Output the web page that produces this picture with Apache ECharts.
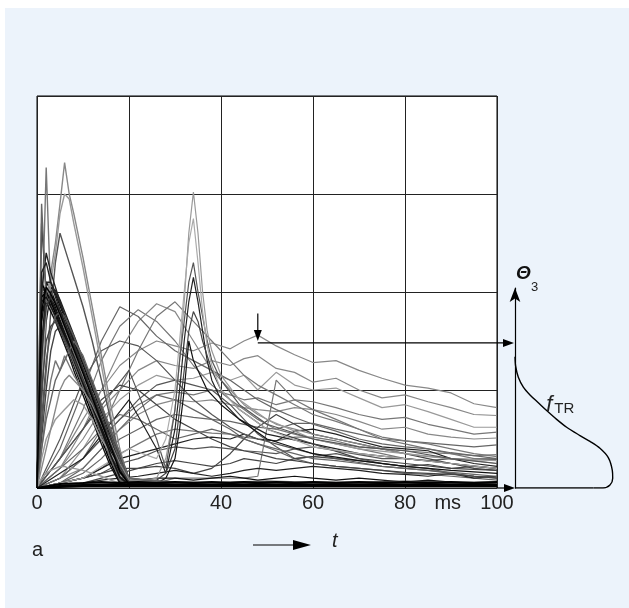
<!DOCTYPE html>
<html>
<head>
<meta charset="utf-8">
<script src="https://cdn.jsdelivr.net/npm/echarts@6/dist/echarts.min.js"></script>
<style>
  html, body { margin: 0; padding: 0; background: #fff; }
  #panel { position: absolute; left: 5px; top: 8px; width: 624px; height: 600px; background: #ecf3fb; }
  #chart { position: absolute; left: 0; top: 0; width: 629px; height: 608px; }
</style>
</head>
<body>
<div id="panel"></div>
<div id="chart"></div>
<script>
// x axis ticks (ms)
const xTicks = [0, 20, 40, 60, 80, 100]
const unitLabel = 'ms'
const unitPos = 89.3

// early traces: fast rise, linear decay to ~18 ms
const tEarly = [0, 1, 2, 3, 4, 5, 6, 7, 8, 10, 12, 14, 16, 18, 20, 30, 40, 50, 60, 70, 80, 90, 100]
const earlyRuns = [
  [0, 2.0, 2.05, 1.95, 1.85, 1.72, 1.6, 1.48, 1.35, 1.1, 0.85, 0.6, 0.35, 0.12, 0.04, 0.03, 0.02, 0.02, 0.03, 0.02, 0.02, 0.03, 0.02],
  [0, 1.85, 2.1, 2.02, 1.9, 1.78, 1.66, 1.54, 1.42, 1.18, 0.93, 0.68, 0.43, 0.2, 0.05, 0.03, 0.03, 0.02, 0.02, 0.02, 0.03, 0.02, 0.02],
  [0, 1.5, 1.95, 2.05, 1.98, 1.86, 1.74, 1.62, 1.5, 1.26, 1.02, 0.78, 0.53, 0.28, 0.06, 0.04, 0.03, 0.02, 0.02, 0.03, 0.02, 0.02, 0.03],
  [0, 1.6, 3.27, 1.95, 1.88, 1.75, 1.62, 1.5, 1.38, 1.13, 0.88, 0.63, 0.38, 0.15, 0.04, 0.03, 0.02, 0.03, 0.02, 0.02, 0.02, 0.03, 0.02],
  [0, 2.1, 1.98, 1.86, 1.74, 1.62, 1.5, 1.38, 1.25, 1.0, 0.75, 0.5, 0.26, 0.06, 0.03, 0.02, 0.02, 0.02, 0.02, 0.02, 0.02, 0.02, 0.02],
  [0, 0.9, 1.7, 2.0, 2.02, 1.92, 1.8, 1.68, 1.56, 1.32, 1.08, 0.84, 0.6, 0.36, 0.1, 0.04, 0.03, 0.03, 0.02, 0.02, 0.02, 0.02, 0.02],
  [0, 1.2, 1.9, 2.2, 2.5, 2.9, 3.32, 3.0, 2.8, 2.35, 1.85, 1.35, 0.85, 0.4, 0.06, 0.03, 0.02, 0.02, 0.02, 0.02, 0.02, 0.02, 0.02],
  [0, 1.0, 1.8, 2.1, 2.4, 2.8, 3.0, 2.95, 2.7, 2.25, 1.75, 1.25, 0.75, 0.3, 0.05, 0.03, 0.02, 0.02, 0.03, 0.02, 0.02, 0.02, 0.02],
  [0, 2.7, 2.0, 1.9, 1.8, 1.68, 1.56, 1.44, 1.32, 1.08, 0.83, 0.58, 0.33, 0.1, 0.03, 0.02, 0.02, 0.02, 0.02, 0.02, 0.02, 0.02, 0.02],
  [0, 0.6, 1.2, 1.8, 2.3, 2.6, 2.45, 2.3, 2.15, 1.85, 1.5, 1.1, 0.7, 0.3, 0.05, 0.03, 0.02, 0.02, 0.02, 0.02, 0.02, 0.02, 0.02],
  [0, 0.5, 1.0, 1.4, 1.6, 1.65, 1.55, 1.45, 1.35, 1.1, 0.85, 0.6, 0.35, 0.12, 0.03, 0.02, 0.02, 0.02, 0.02, 0.02, 0.02, 0.02, 0.02],
  [0, 1.8, 1.9, 1.8, 1.7, 1.58, 1.46, 1.34, 1.2, 0.95, 0.7, 0.45, 0.22, 0.05, 0.03, 0.02, 0.02, 0.02, 0.02, 0.02, 0.02, 0.02, 0.02],
  [0, 0.1, 0.15, 0.18, 0.2, 0.22, 0.22, 0.2, 0.2, 0.18, 0.15, 0.12, 0.08, 0.05, 0.03, 0.02, 0.02, 0.02, 0.02, 0.02, 0.02, 0.02, 0.02],
  [0, 0.4, 0.8, 1.1, 1.3, 1.2, 1.35, 1.25, 1.15, 1.0, 0.9, 0.7, 0.5, 0.3, 0.1, 0.04, 0.03, 0.03, 0.03, 0.03, 0.03, 0.03, 0.03],
  [0, 2.0, 2.4, 2.2, 2.05, 1.9, 1.76, 1.62, 1.48, 1.22, 0.96, 0.7, 0.45, 0.2, 0.05, 0.03, 0.02, 0.02, 0.02, 0.02, 0.02, 0.02, 0.02],
  [0, 1.95, 2.0, 1.9, 1.78, 1.66, 1.54, 1.42, 1.3, 1.05, 0.8, 0.55, 0.3, 0.08, 0.03, 0.03, 0.02, 0.02, 0.02, 0.02, 0.02, 0.02, 0.02],
  [0, 1.7, 2.0, 1.92, 1.82, 1.7, 1.58, 1.46, 1.34, 1.1, 0.86, 0.62, 0.38, 0.16, 0.05, 0.05, 0.04, 0.04, 0.05, 0.05, 0.04, 0.05, 0.05],
  [0, 1.3, 2.1, 2.1, 2.0, 1.88, 1.76, 1.64, 1.52, 1.28, 1.04, 0.8, 0.56, 0.32, 0.08, 0.06, 0.05, 0.05, 0.06, 0.05, 0.06, 0.05, 0.06],
  [0, 2.9, 1.9, 1.85, 1.75, 1.63, 1.51, 1.39, 1.27, 1.03, 0.79, 0.55, 0.3, 0.08, 0.03, 0.03, 0.03, 0.03, 0.03, 0.03, 0.03, 0.03, 0.03],
  [0, 0.3, 0.5, 0.6, 0.7, 0.75, 0.8, 0.85, 0.9, 0.85, 0.7, 0.5, 0.35, 0.2, 0.08, 0.03, 0.02, 0.02, 0.02, 0.02, 0.02, 0.02, 0.02],
  [0, 1.9, 1.95, 1.85, 1.76, 1.65, 1.54, 1.43, 1.31, 1.07, 0.83, 0.59, 0.34, 0.11, 0.04, 0.04, 0.03, 0.04, 0.03, 0.04, 0.03, 0.04, 0.04],
  [0, 1.4, 1.85, 1.95, 1.9, 1.8, 1.69, 1.58, 1.46, 1.22, 0.98, 0.74, 0.5, 0.25, 0.06, 0.05, 0.04, 0.05, 0.04, 0.05, 0.04, 0.05, 0.04],
  [0, 0.7, 1.3, 1.6, 1.75, 1.8, 1.75, 1.65, 1.55, 1.3, 1.05, 0.8, 0.55, 0.3, 0.07, 0.05, 0.05, 0.04, 0.05, 0.04, 0.05, 0.04, 0.05],
  [0, 0.4, 0.7, 0.9, 1.1, 1.2, 1.3, 1.4, 1.5, 1.35, 1.1, 0.85, 0.6, 0.35, 0.1, 0.06, 0.05, 0.05, 0.05, 0.06, 0.05, 0.05, 0.05],
  [0, 0.2, 0.4, 0.6, 0.8, 1.0, 1.1, 1.15, 1.1, 1.0, 0.85, 0.65, 0.45, 0.25, 0.08, 0.05, 0.04, 0.04, 0.04, 0.04, 0.04, 0.04, 0.04],
  [0, 1.0, 1.5, 1.65, 1.7, 1.62, 1.52, 1.42, 1.32, 1.1, 0.88, 0.66, 0.44, 0.22, 0.06, 0.06, 0.06, 0.07, 0.06, 0.06, 0.07, 0.06, 0.06],
  [0, 2.2, 2.3, 2.1, 1.95, 1.82, 1.7, 1.57, 1.44, 1.19, 0.94, 0.69, 0.44, 0.19, 0.04, 0.02, 0.02, 0.02, 0.02, 0.02, 0.02, 0.02, 0.02],
  [0, 1.8, 2.05, 1.98, 1.88, 1.77, 1.65, 1.53, 1.41, 1.17, 0.92, 0.67, 0.42, 0.17, 0.04, 0.04, 0.04, 0.04, 0.04, 0.04, 0.04, 0.04, 0.04]
]
const earlyColors = ['#000', '#111', '#000', '#777', '#000', '#222', '#888', '#999', '#333', '#555', '#444', '#111', '#999', '#777', '#222', '#000', '#111', '#222', '#666', '#999', '#111', '#333', '#555', '#666', '#888', '#444', '#222', '#000']

// traces with the spike near 34 ms
const tSpike = [0, 10, 20, 26, 28, 30, 31, 32, 33, 34, 35, 36, 37, 38, 40, 44, 50, 60, 70, 80, 90, 100]
const spikeRuns = [
  [0, 0.05, 0.05, 0.1, 0.3, 0.8, 1.3, 1.9, 2.6, 3.02, 2.6, 2.0, 1.6, 1.4, 1.15, 0.9, 0.7, 0.5, 0.4, 0.35, 0.3, 0.28],
  [0, 0.6, 1.2, 0.5, 0.2, 0.8, 1.3, 1.7, 2.1, 2.3, 2.0, 1.75, 1.5, 1.3, 1.1, 0.85, 0.65, 0.5, 0.42, 0.38, 0.3, 0.25],
  [0, 0.3, 0.9, 0.4, 0.15, 0.6, 1.0, 1.5, 1.9, 2.15, 1.9, 1.6, 1.3, 1.1, 0.9, 0.7, 0.55, 0.45, 0.35, 0.3, 0.25, 0.2],
  [0, 0.05, 0.05, 0.08, 0.15, 0.4, 0.8, 1.2, 1.6, 1.8, 1.7, 1.5, 1.35, 1.2, 1.0, 0.8, 0.6, 0.45, 0.3, 0.25, 0.2, 0.18],
  [0, 0.03, 0.03, 0.05, 0.1, 0.3, 0.6, 1.0, 1.5, 1.3, 1.2, 1.1, 1.0, 0.95, 0.85, 0.7, 0.5, 0.35, 0.28, 0.22, 0.18, 0.15],
  [0, 0.1, 0.4, 0.3, 0.5, 1.0, 1.5, 2.0, 2.5, 2.75, 2.3, 1.8, 1.45, 1.25, 1.0, 0.8, 0.6, 0.42, 0.35, 0.3, 0.25, 0.2]
]
const spikeColors = ['#999', '#555', '#222', '#444', '#111', '#aaa']

// slower traces: humps 15-30 ms and long tails
const tMid = [0, 5, 10, 14, 18, 22, 26, 30, 34, 38, 42, 45, 48, 52, 56, 60, 65, 70, 75, 80, 85, 90, 95, 100]
const midRuns = [
  [0, 0.3, 0.8, 1.3, 1.65, 1.82, 1.7, 1.5, 1.25, 1.05, 0.9, 0.8, 0.7, 0.6, 0.55, 0.5, 0.45, 0.4, 0.35, 0.3, 0.28, 0.25, 0.22, 0.2],
  [0, 0.2, 0.6, 1.0, 1.4, 1.7, 1.88, 1.8, 1.5, 1.2, 1.0, 0.85, 0.75, 0.65, 0.6, 0.55, 0.5, 0.45, 0.4, 0.35, 0.32, 0.3, 0.28, 0.25],
  [0, 0.4, 1.0, 1.5, 1.85, 1.75, 1.55, 1.4, 1.3, 1.2, 1.1, 1.0, 0.9, 0.8, 0.72, 0.65, 0.58, 0.5, 0.45, 0.42, 0.4, 0.36, 0.33, 0.3],
  [0, 0.1, 0.3, 0.6, 1.0, 1.4, 1.75, 1.9, 1.7, 1.5, 1.3, 1.15, 1.05, 0.95, 0.85, 0.75, 0.68, 0.6, 0.52, 0.48, 0.45, 0.4, 0.35, 0.32],
  [0, 0.5, 1.1, 1.4, 1.5, 1.45, 1.3, 1.1, 0.9, 0.75, 0.62, 0.55, 0.5, 0.45, 0.4, 0.35, 0.3, 0.26, 0.22, 0.2, 0.18, 0.15, 0.12, 0.1],
  [0, 0.3, 0.6, 0.9, 1.05, 1.0, 0.85, 0.7, 0.6, 0.5, 0.42, 0.38, 0.35, 0.3, 0.28, 0.25, 0.22, 0.2, 0.18, 0.16, 0.15, 0.14, 0.12, 0.1],
  [0, 0.2, 0.4, 0.6, 0.75, 0.7, 0.6, 0.5, 0.55, 0.6, 0.55, 0.5, 0.45, 0.4, 0.35, 0.3, 0.28, 0.25, 0.22, 0.2, 0.18, 0.16, 0.14, 0.12]
]
const midColors = ['#777', '#888', '#666', '#777', '#555', '#444', '#666']

const tailRuns = [
  [0, 0.3, 0.7, 1.0, 1.25, 1.4, 1.5, 1.45, 1.4, 1.48, 1.42, 1.5, 1.56, 1.45, 1.36, 1.28, 1.3, 1.2, 1.12, 1.05, 1.02, 0.97, 0.86, 0.82],
  [0, 0.2, 0.5, 0.8, 1.0, 1.2, 1.3, 1.25, 1.22, 1.3, 1.25, 1.32, 1.35, 1.22, 1.18, 1.08, 1.12, 1.0, 0.92, 0.95, 0.88, 0.82, 0.75, 0.74],
  [0, 0.1, 0.4, 0.7, 0.9, 1.05, 1.15, 1.1, 1.12, 1.18, 1.1, 1.15, 1.0, 1.18, 1.05, 1.0, 1.02, 0.92, 0.82, 0.85, 0.78, 0.7, 0.62, 0.62],
  [0, 0.1, 0.3, 0.5, 0.7, 0.85, 0.95, 0.98, 0.95, 1.0, 0.95, 0.9, 0.92, 0.85, 0.9, 0.88, 0.82, 0.75, 0.7, 0.72, 0.65, 0.6, 0.55, 0.57],
  [0, 0.1, 0.2, 0.4, 0.6, 0.75, 0.85, 0.9, 0.88, 0.9, 0.85, 0.82, 0.8, 0.78, 0.82, 0.8, 0.75, 0.68, 0.6, 0.62, 0.55, 0.52, 0.5, 0.51],
  [0, 0.05, 0.15, 0.3, 0.5, 0.6, 0.7, 0.75, 0.72, 0.7, 0.68, 0.65, 0.62, 0.6, 0.66, 0.66, 0.6, 0.55, 0.5, 0.48, 0.46, 0.44, 0.42, 0.44],
  [0, 0.05, 0.1, 0.2, 0.35, 0.45, 0.55, 0.6, 0.58, 0.56, 0.55, 0.52, 0.5, 0.48, 0.52, 0.52, 0.48, 0.42, 0.4, 0.38, 0.36, 0.35, 0.33, 0.34],
  [0, 0.05, 0.1, 0.15, 0.25, 0.3, 0.38, 0.42, 0.4, 0.42, 0.4, 0.38, 0.37, 0.35, 0.4, 0.42, 0.38, 0.34, 0.3, 0.3, 0.28, 0.3, 0.29, 0.29],
  [0, 0.05, 0.1, 0.15, 0.2, 0.2, 0.22, 0.2, 0.15, 0.2, 0.35, 0.5, 0.62, 0.75, 0.65, 0.55, 0.5, 0.45, 0.4, 0.35, 0.3, 0.25, 0.2, 0.18],
  [0, 0.1, 0.3, 0.5, 0.7, 0.9, 1.05, 1.1, 1.05, 1.0, 0.85, 0.7, 0.55, 0.42, 0.3, 0.32, 0.35, 0.3, 0.25, 0.22, 0.2, 0.15, 0.12, 0.11],
  [0, 0.05, 0.2, 0.4, 0.6, 0.8, 0.95, 0.9, 0.8, 0.7, 0.6, 0.5, 0.45, 0.38, 0.3, 0.25, 0.22, 0.2, 0.18, 0.15, 0.14, 0.12, 0.1, 0.08],
  [0, 0.05, 0.1, 0.2, 0.3, 0.35, 0.4, 0.45, 0.5, 0.52, 0.5, 0.55, 0.5, 0.48, 0.58, 0.6, 0.55, 0.48, 0.42, 0.4, 0.38, 0.3, 0.25, 0.22],
  [0, 0.02, 0.05, 0.1, 0.15, 0.2, 0.25, 0.28, 0.25, 0.22, 0.25, 0.3, 0.28, 0.25, 0.3, 0.32, 0.3, 0.28, 0.25, 0.22, 0.24, 0.2, 0.22, 0.2],
  [0, 0.02, 0.03, 0.05, 0.05, 0.05, 0.05, 0.1, 0.1, 0.1, 0.1, 0.1, 0.12, 1.1, 0.9, 0.8, 0.7, 0.6, 0.5, 0.45, 0.4, 0.35, 0.3, 0.3],
  [0, 0.02, 0.05, 0.08, 0.1, 0.12, 0.15, 0.18, 0.15, 0.12, 0.15, 0.18, 0.2, 0.18, 0.2, 0.22, 0.2, 0.18, 0.15, 0.14, 0.12, 0.15, 0.1, 0.12],
  [0, 0.02, 0.03, 0.05, 0.06, 0.08, 0.1, 0.1, 0.08, 0.1, 0.12, 0.1, 0.08, 0.1, 0.12, 0.1, 0.08, 0.1, 0.08, 0.06, 0.08, 0.06, 0.05, 0.06]
]
const tailColors = ['#888', '#888', '#999', '#777', '#888', '#666', '#777', '#555', '#444', '#555', '#666', '#222', '#444', '#777', '#222', '#111']

// traces that stay at the floor after the first pulse
const floorRuns = [
  [0, 0.02, 0.03, 0.03, 0.04, 0.03, 0.04, 0.03, 0.04, 0.03, 0.04, 0.03, 0.04, 0.03, 0.04, 0.03, 0.04, 0.03, 0.04, 0.03, 0.04, 0.03, 0.04, 0.03],
  [0, 0.04, 0.05, 0.06, 0.05, 0.06, 0.05, 0.06, 0.05, 0.06, 0.05, 0.06, 0.05, 0.06, 0.05, 0.06, 0.05, 0.06, 0.05, 0.06, 0.05, 0.06, 0.05, 0.06],
  [0, 0.01, 0.02, 0.02, 0.02, 0.02, 0.02, 0.02, 0.02, 0.02, 0.02, 0.02, 0.02, 0.02, 0.02, 0.02, 0.02, 0.02, 0.02, 0.02, 0.02, 0.02, 0.02, 0.02]
]

// marked trace point and level
const markT = 48
const markPeak = 1.56
const markLevel = 1.48

// density f_TR over Theta_3 (density normalised to its maximum)
const fDensity = [0, 0.007, 0.034, 0.085, 0.153, 0.238, 0.323, 0.425, 0.527, 0.663, 0.765, 0.867, 0.952, 0.993, 0.997, 0.969, 0.898, 0.8]
const fTheta = [1.34, 1.24, 1.13, 1.03, 0.95, 0.87, 0.79, 0.7, 0.62, 0.535, 0.475, 0.405, 0.31, 0.18, 0.1, 0.03, 0.0, 0.0]

const FONT = "'Liberation Sans', Arial, sans-serif"

const chart = echarts.init(document.getElementById('chart'), null, { renderer: 'canvas' })

// 生成曲线系列
const traceSeries = (t, runs, colors, width) => runs.map((v, i) => ({
  type: 'line',
  xAxisIndex: 0,
  yAxisIndex: 0,
  data: t.map((x, k) => [x, v[k]]),
  showSymbol: false,
  silent: true,
  lineStyle: { color: colors[i % colors.length], width }
}))

const series = [
  ...traceSeries(tMid, tailRuns, tailColors, 1.2),
  ...traceSeries(tMid, midRuns, midColors, 1.2),
  ...traceSeries(tSpike, spikeRuns, spikeColors, 1.2),
  ...traceSeries(tEarly, earlyRuns, earlyColors, 1.4),
  ...traceSeries(tMid, floorRuns, ['#000'], 2),
  {
    type: 'line',
    xAxisIndex: 1,
    yAxisIndex: 1,
    data: fDensity.map((d, i) => [d, fTheta[i]]),
    smooth: 0.3,
    showSymbol: false,
    silent: true,
    lineStyle: { color: '#000', width: 1.4 }
  },
  {
    type: 'line',
    xAxisIndex: 1,
    yAxisIndex: 1,
    data: [[fDensity[fDensity.length - 1], 0], [0, 0]],
    showSymbol: false,
    silent: true,
    lineStyle: { color: '#000', width: 1.4 }
  }
]

const option = {
  animation: false,
  backgroundColor: 'transparent',
  grid: [
    { left: 37, top: 96, width: 460, height: 392, show: true, backgroundColor: '#fff', borderColor: '#000', borderWidth: 1 },
    { left: 515, top: 288, width: 98, height: 200, show: false }
  ],
  xAxis: [
    {
      type: 'value', gridIndex: 0, min: 0, max: 100, interval: 20,
      axisLine: { show: false },
      axisTick: { show: false },
      splitLine: { show: true, lineStyle: { color: '#222', width: 1 } },
      axisLabel: {
        color: '#222', fontSize: 20, fontFamily: FONT, margin: 5,
        formatter: (v) => xTicks.includes(v) ? String(v) : ''
      }
    },
    {
      type: 'value', gridIndex: 1, min: 0, max: 1,
      axisLine: { show: false }, axisTick: { show: false },
      splitLine: { show: false }, axisLabel: { show: false }
    }
  ],
  yAxis: [
    {
      type: 'value', gridIndex: 0, min: 0, max: 4, interval: 1,
      axisLine: { show: false }, axisTick: { show: false },
      axisLabel: { show: false },
      splitLine: { show: true, lineStyle: { color: '#222', width: 1 } }
    },
    {
      type: 'value', gridIndex: 1, min: 0, max: 200 / 98,
      axisLine: {
        show: true, onZero: false,
        symbol: ['none', 'arrow'], symbolSize: [8, 14],
        lineStyle: { color: '#000', width: 1.2 }
      },
      axisTick: { show: false }, axisLabel: { show: false },
      splitLine: { show: false }
    }
  ],
  series
}
chart.setOption(option)

// 箭头
const arrow = (x1, y1, x2, y2, len, half) => {
  const dx = x2 - x1
  const dy = y2 - y1
  const d = Math.sqrt(dx * dx + dy * dy)
  const ux = dx / d
  const uy = dy / d
  const bx = x2 - ux * len
  const by = y2 - uy * len
  return [
    { type: 'line', z: 100, shape: { x1, y1, x2: bx, y2: by }, style: { stroke: '#000', lineWidth: 1.2 } },
    { type: 'polygon', z: 100, shape: { points: [[x2, y2], [bx - uy * half, by + ux * half], [bx + uy * half, by - ux * half]] }, style: { fill: '#000' } }
  ]
}

const main = { xAxisIndex: 0, yAxisIndex: 0 }
const dens = { xAxisIndex: 1, yAxisIndex: 1 }
const pPeak = chart.convertToPixel(main, [markT, markPeak])
const pLevel = chart.convertToPixel(main, [markT, markLevel])
const pAxis = chart.convertToPixel(dens, [0, markLevel])
const pTop = chart.convertToPixel(main, [markT, markPeak + 0.22])
const pEnd = chart.convertToPixel(main, [100, 0])
const pOrigin = chart.convertToPixel(dens, [0, 0])
const pUnit = chart.convertToPixel(main, [unitPos, 0])
const pDensTop = chart.convertToPixel(dens, [0, 200 / 98])
const pLabel = chart.convertToPixel(dens, [0.32, 0.85])

const graphic = [
  ...arrow(pLevel[0], pLevel[1], pAxis[0] - 1, pAxis[1], 11, 4),
  ...arrow(pTop[0], pTop[1], pPeak[0], pPeak[1] + 6, 11, 4),
  ...arrow(pEnd[0], pEnd[1], pOrigin[0], pOrigin[1], 11, 4),
  ...arrow(253, 545, 311, 545, 18, 5),
  {
    type: 'text', z: 100, x: pUnit[0], y: pUnit[1] + 5,
    style: { text: unitLabel, fontSize: 20, fontFamily: FONT, fill: '#222', align: 'center', verticalAlign: 'top' }
  },
  {
    type: 'text', z: 100, x: pDensTop[0] + 1, y: pDensTop[1] - 14,
    style: { text: 'Θ', fontSize: 19, fontStyle: 'italic', fontWeight: 'bold', fontFamily: FONT, fill: '#111', align: 'left', verticalAlign: 'middle' }
  },
  {
    type: 'text', z: 100, x: pDensTop[0] + 16, y: pDensTop[1] - 1,
    style: { text: '3', fontSize: 13, fontFamily: FONT, fill: '#222', align: 'left', verticalAlign: 'middle' }
  },
  {
    type: 'text', z: 100, x: pLabel[0], y: pLabel[1],
    style: { text: 'f', fontSize: 22, fontStyle: 'italic', fontFamily: FONT, fill: '#222', align: 'left', verticalAlign: 'middle' }
  },
  {
    type: 'text', z: 100, x: pLabel[0] + 8, y: pLabel[1] + 4,
    style: { text: 'TR', fontSize: 15, fontFamily: FONT, fill: '#222', align: 'left', verticalAlign: 'middle' }
  },
  {
    type: 'text', z: 100, x: 32, y: 550,
    style: { text: 'a', fontSize: 20, fontFamily: FONT, fill: '#222', align: 'left', verticalAlign: 'middle' }
  },
  {
    type: 'text', z: 100, x: 332, y: 541,
    style: { text: 't', fontSize: 20, fontStyle: 'italic', fontFamily: FONT, fill: '#222', align: 'left', verticalAlign: 'middle' }
  }
]
chart.setOption({ graphic })
</script>
</body>
</html>
